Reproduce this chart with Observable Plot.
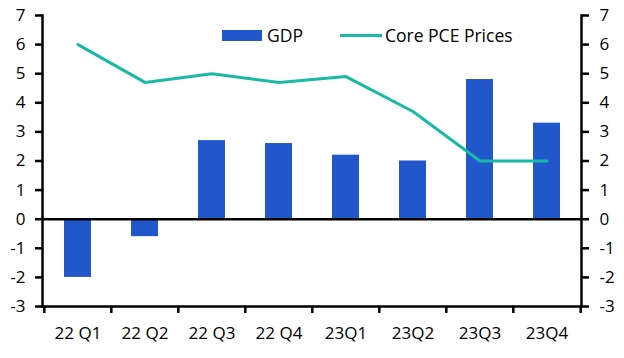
<!DOCTYPE html>
<html>
<head>
<meta charset="utf-8">
<script src="https://cdn.jsdelivr.net/npm/d3@7"></script>
<script src="https://cdn.jsdelivr.net/npm/@observablehq/plot@0.6"></script>
<style>
  html, body { margin: 0; padding: 0; background: #fff; }
  #wrap { position: relative; width: 624px; height: 358px; font-family: "Open Sans", sans-serif; }
  .leg { position: absolute; font-size: 17.5px; color: #000; display: flex; align-items: center; white-space: nowrap; }
  .sw-bar { display: inline-block; width: 40px; height: 11px; background: #2157CA; margin-right: 5px; }
  .sw-line { display: inline-block; width: 42px; height: 3px; background: #19B9A7; margin-right: 3px; }
</style>
</head>
<body>
<div id="wrap"></div>
<script>
const quarters = ["22 Q1", "22 Q2", "22 Q3", "22 Q4", "23Q1", "23Q2", "23Q3", "23Q4"];
const gdp = [-2.0, -0.6, 2.7, 2.6, 2.2, 2.0, 4.8, 3.3];
const corePce = [6.0, 4.7, 5.0, 4.7, 4.9, 3.7, 2.0, 2.0];
const yTicks = [-3, -2, -1, 0, 1, 2, 3, 4, 5, 6, 7];

const W = 624, H = 358;
const mL = 42, mR = 43, mT = 15, mB = 52;
const half = (W - mL - mR) / quarters.length / 2;

const data = quarters.map((q, i) => ({q, gdp: gdp[i], pce: corePce[i]}));
const blue = "#2157CA", teal = "#19B9A7";

const chart = Plot.plot({
  width: W, height: H,
  marginLeft: mL, marginRight: mR, marginTop: mT, marginBottom: mB,
  style: {fontFamily: "Open Sans, sans-serif", fontSize: "17px", color: "#000", background: "#fff"},
  x: {domain: quarters, paddingInner: 0.6, paddingOuter: 0.3, label: null},
  y: {domain: [-3, 7], label: null},
  marks: [
    Plot.barY(data, {x: "q", y: "gdp", fill: blue}),
    Plot.ruleY([0], {stroke: "#000", strokeWidth: 2.5}),
    Plot.lineY(data, {x: "q", y: "pce", stroke: teal, strokeWidth: 3}),
    Plot.frame({anchor: "left", stroke: "#000", strokeWidth: 2.5}),
    Plot.frame({anchor: "right", stroke: "#000", strokeWidth: 2.5}),
    Plot.frame({anchor: "bottom", stroke: "#000", strokeWidth: 2.5}),
    Plot.axisY({anchor: "left", ticks: yTicks, tickSize: 7, tickPadding: 10, strokeWidth: 2.5, tickFormat: d => String(d), fill: "#000", label: null}),
    Plot.axisY({anchor: "right", ticks: yTicks, tickSize: 7, tickPadding: 11, strokeWidth: 2.5, tickFormat: d => String(d), fill: "#000", label: null}),
    Plot.axisX({tickSize: 0, tickPadding: 20, fill: "#000", label: null}),
    Plot.axisX({tickSize: 7, dx: -half, strokeWidth: 2.5, tickFormat: () => "", label: null}),
    Plot.axisX({ticks: [quarters[quarters.length - 1]], tickSize: 7, dx: half, strokeWidth: 2.5, tickFormat: () => "", label: null})
  ]
});

const wrap = document.getElementById("wrap");
wrap.appendChild(chart);

const l1 = document.createElement("div");
l1.className = "leg";
l1.style.left = "222px"; l1.style.top = "23px";
l1.innerHTML = '<span class="sw-bar"></span><span>GDP</span>';
wrap.appendChild(l1);

const l2 = document.createElement("div");
l2.className = "leg";
l2.style.left = "340px"; l2.style.top = "23px";
l2.innerHTML = '<span class="sw-line"></span><span>Core PCE Prices</span>';
wrap.appendChild(l2);
</script>
</body>
</html>
